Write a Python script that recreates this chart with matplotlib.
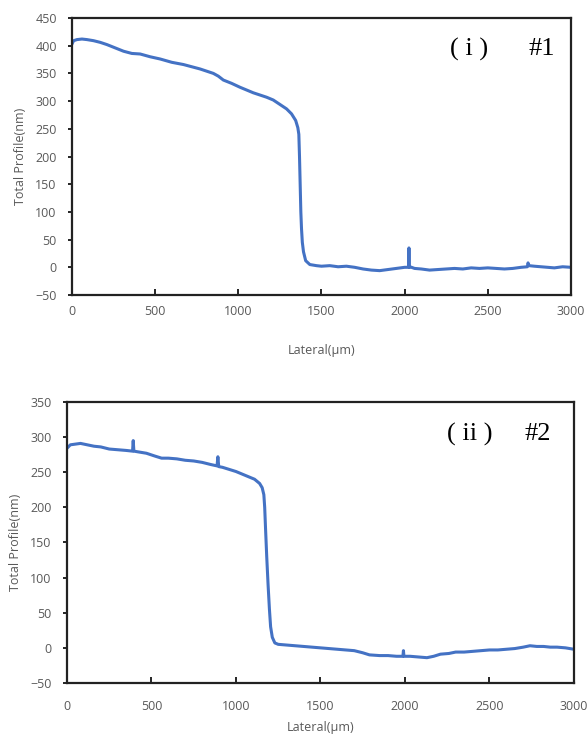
import matplotlib.pyplot as plt

# Profile #1
x1 = [0, 10, 30, 60, 90, 130, 170, 210, 260, 310, 360, 410, 470, 530, 600, 670, 720,
      770, 850, 880, 910, 960, 1010, 1050, 1090, 1130, 1170, 1210, 1250, 1290, 1320,
      1345, 1358, 1364, 1368, 1372, 1376, 1380, 1385, 1392, 1405, 1430, 1470, 1500,
      1550, 1600, 1650, 1700, 1750, 1800, 1850, 1900, 1950, 2000, 2024, 2026, 2028,
      2032, 2060, 2100, 2150, 2200, 2250, 2300, 2350, 2400, 2450, 2500, 2550, 2600,
      2650, 2700, 2738, 2742, 2748, 2780, 2820, 2860, 2900, 2950, 3000]
y1 = [403, 409, 411, 412, 411, 409, 406, 402, 396, 390, 386, 385, 380, 376, 370, 366, 362,
      358, 350, 345, 338, 332, 325, 320, 315, 311, 307, 302, 294, 286, 277,
      265, 252, 240, 200, 150, 100, 70, 45, 28, 12, 5, 3, 2,
      3, 1, 2, 0, -3, -5, -6, -4, -2, 0, 0, 35, 0,
      1, -2, -3, -5, -4, -3, -2, -3, -1, -2, -1, -2, -3,
      -2, 0, 1, 8, 3, 2, 1, 0, -1, 1, 0]

# Profile #2
x2 = [0, 20, 50, 80, 120, 160, 200, 250, 300, 350, 388, 392, 396, 420, 470, 520, 560,
      600, 650, 700, 750, 800, 850, 888, 893, 898, 920, 960, 1000, 1040, 1080, 1110,
      1140, 1155, 1165, 1170, 1175, 1182, 1190, 1198, 1205, 1215, 1230, 1250, 1300,
      1350, 1400, 1450, 1500, 1550, 1600, 1650, 1700, 1750, 1790, 1850, 1900, 1950,
      1988, 1991, 1994, 2030, 2080, 2130, 2170, 2210, 2260, 2300, 2350, 2400, 2450,
      2500, 2550, 2600, 2650, 2700, 2740, 2780, 2820, 2860, 2900, 2950, 3000]
y2 = [284, 289, 290, 291, 289, 287, 286, 283, 282, 281, 280, 295, 280, 279, 277, 273, 270,
      270, 269, 267, 266, 264, 261, 259, 272, 258, 257, 254, 251, 247, 243, 240,
      234, 228, 218, 200, 170, 130, 90, 55, 30, 15, 7, 5, 4,
      3, 2, 1, 0, -1, -2, -3, -4, -7, -10, -11, -11, -12,
      -12, -4, -12, -12, -13, -14, -12, -9, -8, -6, -6, -5, -4,
      -3, -3, -2, -1, 1, 3, 2, 2, 1, 1, 0, -2]

x_ticks = [0, 500, 1000, 1500, 2000, 2500, 3000]
y_ticks1 = [-50, 0, 50, 100, 150, 200, 250, 300, 350, 400, 450]
y_ticks2 = [-50, 0, 50, 100, 150, 200, 250, 300, 350]

line_color = "#4472C4"
gray = "#595959"
plt.rcParams["font.family"] = ["Open Sans", "DejaVu Sans"]

fig = plt.figure(figsize=(5.88, 7.37), dpi=100)
ax1 = fig.add_axes([0.1224, 0.5997, 0.8486, 0.3759])
ax2 = fig.add_axes([0.1139, 0.0733, 0.8622, 0.3813])

# axes, data, y ticks, y range, panel tag, number, x tick pad, x label pad, tag positions
panels = [
    (ax1, x1, y1, y_ticks1, (-50, 450), "( i )", "#1", 7, 19, 0.757, 0.968, 0.888),
    (ax2, x2, y2, y_ticks2, (-50, 350), "( ii )", "#2", 12, 6, 0.750, 0.955, 0.886),
]

for ax, xs, ys, yt, ylim, tag, num, xpad, xlpad, tx0, tx1, ty in panels:
    ax.plot(xs, ys, color=line_color, linewidth=2.2)
    ax.set_xlim(0, 3000)
    ax.set_ylim(*ylim)
    ax.set_xticks(x_ticks)
    ax.set_yticks(yt)
    for s in ax.spines.values():
        s.set_linewidth(1.6)
        s.set_color("#222222")
    ax.tick_params(axis="y", direction="out", length=3, width=1.2,
                   labelsize=9, labelcolor=gray, pad=8)
    ax.tick_params(axis="x", direction="in", length=4, width=1.2,
                   labelsize=9, labelcolor=gray, pad=xpad)
    ax.set_xlabel("Lateral(μm)", fontsize=9, color=gray, labelpad=xlpad)
    ax.set_ylabel("Total Profile(nm)", fontsize=9, color=gray, labelpad=6)
    ax.text(tx0, ty, tag, transform=ax.transAxes, fontsize=19,
            family="Liberation Serif", ha="left", va="center")
    ax.text(tx1, ty, num, transform=ax.transAxes, fontsize=19,
            family="Liberation Serif", ha="right", va="center")

fig.savefig("out.png", dpi=100)
